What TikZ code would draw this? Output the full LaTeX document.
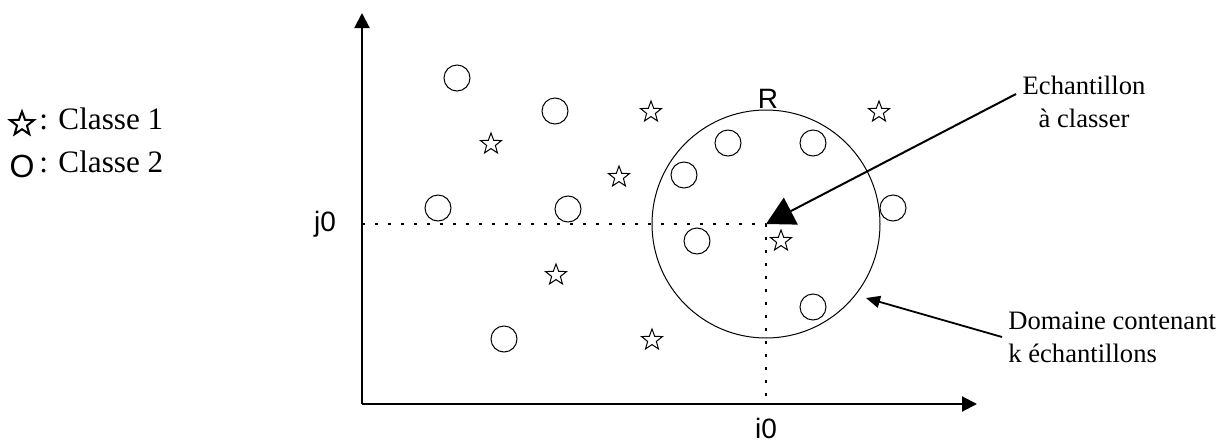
\documentclass[tikz,border=0pt]{standalone}
\usepackage{fontspec}
\setmainfont{Liberation Serif}
\newfontfamily\lsans{Liberation Sans}
\usetikzlibrary{arrows.meta,shapes.geometric}
\begin{document}
\begin{tikzpicture}[x=0.5pt,y=-0.5pt,
  smp/.style={circle,draw,line width=0.5pt,minimum size=13pt,inner sep=0pt},
  stp/.style={star,star points=5,star point ratio=2.4,draw,line width=0.5pt,minimum size=11pt,inner sep=0pt},
  axis/.style={line width=1pt,-{Triangle[length=7.5pt,width=7.5pt]}},
  guide/.style={line width=0.6pt,dash pattern=on 1.5pt off 5pt},
  lbl/.style={font=\fontsize{13.3}{16.5}\selectfont,inner sep=0pt},
  leg/.style={font=\fontsize{15.6}{18}\selectfont,inner sep=0pt},
  sanslbl/.style={font=\lsans\fontsize{14}{16}\selectfont,inner sep=0pt}]
\useasboundingbox (0,0) rectangle (1232,445);

% axes
\coordinate (O) at (362,404);
\coordinate (ytip) at (362,13);
\coordinate (xtip) at (977,404);
\draw[axis] (O) -- (ytip);
\draw[axis] (O) -- (xtip);

% sample and domain
\coordinate (s) at (766,224);
\node[circle,draw,line width=0.5pt,minimum size=114pt,inner sep=0pt] (dom) at (s) {};
\draw[guide] (O |- s) -- (s);
\draw[guide] (s) -- (s |- O);
\node[sanslbl] (j0) at (325,224) {j0};
\node[sanslbl] (i0) at (766,428) {i0};
\node[sanslbl,anchor=south] (R) at (768,109) {R};

% class 2 points
\node[smp] (c1) at (457,78) {};
\node[smp] (c2) at (555,111) {};
\node[smp] (c3) at (438,208) {};
\node[smp] (c4) at (568,209) {};
\node[smp] (c5) at (504,339) {};
\node[smp] (c6) at (728,143) {};
\node[smp] (c7) at (813,143) {};
\node[smp] (c8) at (684,175) {};
\node[smp] (c9) at (893,208) {};
\node[smp] (c10) at (697,241) {};
\node[smp] (c11) at (813,307) {};

% class 1 points
\node[stp] (a1) at (491,144) {};
\node[stp] (a2) at (651,112) {};
\node[stp] (a3) at (619,177) {};
\node[stp] (a4) at (556,275) {};
\node[stp] (a5) at (652,340) {};
\node[stp] (a6) at (879,112) {};
\node[stp] (a7) at (781,241) {};

% legend
\node[stp,line width=1pt,minimum size=12.5pt] (k1) at (22,124) {};
\node[leg,anchor=base west] (t1) at (39,129) {: Classe 1};
\node[font=\lsans\fontsize{16}{18}\selectfont,inner sep=0pt] (k2) at (22,166) {O};
\node[leg,anchor=base west] (t2) at (39,172) {: Classe 2};

% annotations
\node[lbl,align=center] (ech) at (1084,102) {Echantillon\\à classer};
\node[lbl,align=left,anchor=north west] (dc) at (1008,311) {Domaine contenant\\k échantillons};
\coordinate (e1) at (1016,94);
\draw[line width=1pt,-{Triangle[length=14pt,width=15pt]}] (e1) -- (s);
\coordinate (d1) at (1002,337);
\coordinate (d2) at (866,298);
\draw[line width=0.9pt,-{Triangle[length=7pt,width=6pt]}] (d1) -- (d2);
\end{tikzpicture}
\end{document}
